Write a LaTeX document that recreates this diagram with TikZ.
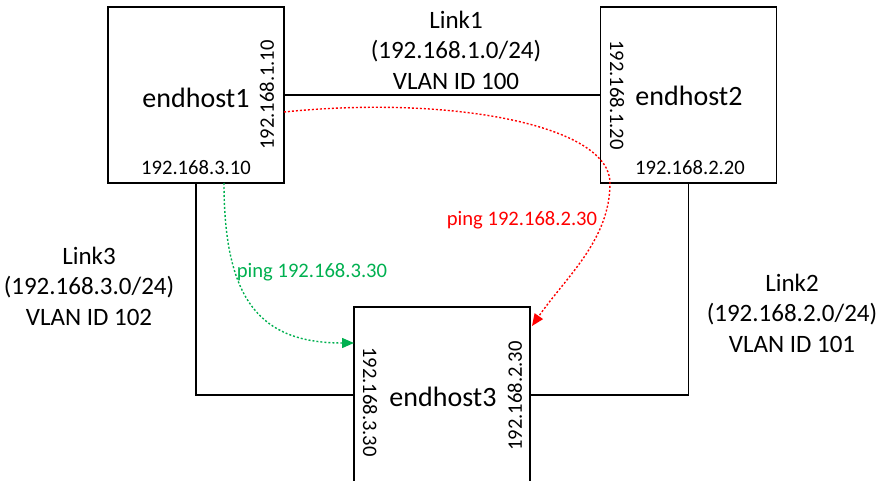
\documentclass[tikz,border=0pt]{standalone}
\usepackage{fontspec}
\setmainfont{Carlito}
\usetikzlibrary{arrows.meta,calc}
\definecolor{pgreen}{RGB}{0,176,80}
\definecolor{pred}{RGB}{255,0,0}
\begin{document}
\begin{tikzpicture}[x=1pt,y=-1pt,
  host/.style={draw, line width=1.3pt, minimum width=176pt, minimum height=176pt, inner sep=0pt},
  big/.style={font=\fontsize{28}{34}\selectfont, inner sep=0pt},
  small/.style={font=\fontsize{20.6}{25}\selectfont, inner sep=0pt},
  linklbl/.style={font=\fontsize{25}{30.5}\selectfont, align=center, inner sep=0pt},
  link/.style={line width=1.1pt},
  ping/.style={line width=1.4pt, dash pattern=on 2pt off 2pt, -{Triangle[length=12pt,width=10pt]}},
]
\useasboundingbox (0,0) rectangle (878,481);
\clip (0,0) rectangle (878,481);
% hosts
\node[host] (e1) at (196,95) {};
\node[host] (e2) at (688.5,95) {};
\node[host] (e3) at (442,395) {};
% host names
\node[big] (n1) at (196,98) {endhost1};
\node[big] (n2) at (689,96) {endhost2};
\node[big] (n3) at (443,397) {endhost3};
% addresses
\node[small, rotate=90] (a110) at (267,95) {192.168.1.10};
\node[small] (a310) at (196,168) {192.168.3.10};
\node[small, rotate=-90] (a120) at (617,95) {192.168.1.20};
\node[small] (a220) at (690,168) {192.168.2.20};
\node[small, rotate=-90] (a330) at (370,402) {192.168.3.30};
\node[small, rotate=90] (a230) at (515,396) {192.168.2.30};
% links
\draw[link] (e1.east) -- (e2.west);
\draw[link] (e1.south) |- (e3.west);
\draw[link] (e2.south) |- (e3.east);
% link labels
\node[linklbl] (l1) at (456,50) {Link1\\(192.168.1.0/24)\\VLAN ID 100};
\node[linklbl] (l3) at (89,286) {Link3\\(192.168.3.0/24)\\VLAN ID 102};
\node[linklbl] (l2) at (792,313) {Link2\\(192.168.2.0/24)\\VLAN ID 101};
% pings
\coordinate (r0) at (284,112);
\coordinate (r1) at (610,183);
\coordinate (r2) at (532,326);
\draw[ping, pred] (r0) .. controls (450,95) and (610,125) .. (r1)
  .. controls (610,240) and (566,277) .. (r2);
\node[small, text=pred] (pr) at (522,220) {ping 192.168.2.30};
\coordinate (g0) at (224,183);
\coordinate (g1) at (354,343);
\draw[ping, pgreen] (g0) .. controls (224,300) and (260,343) .. (g1);
\node[small, text=pgreen] (pg) at (312,272) {ping 192.168.3.30};
\end{tikzpicture}
\end{document}
